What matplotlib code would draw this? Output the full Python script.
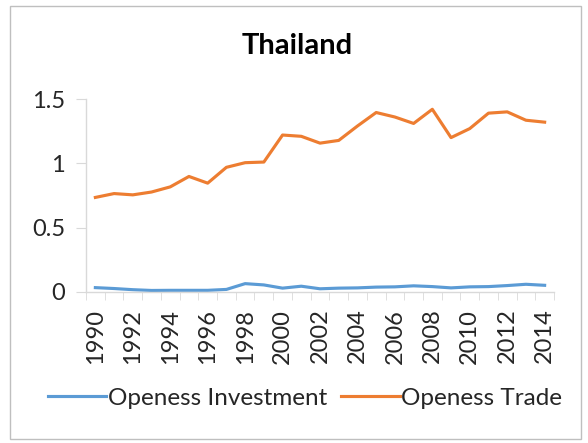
import matplotlib.pyplot as plt
import numpy as np
from matplotlib.patches import Rectangle
from matplotlib.ticker import FixedLocator

plt.rcParams['font.family'] = ['Lato', 'DejaVu Sans']

years = list(range(1990, 2015))
openess_investment = [0.034, 0.027, 0.018, 0.012, 0.013, 0.013, 0.013, 0.02, 0.065,
                      0.055, 0.03, 0.045, 0.025, 0.03, 0.032, 0.038, 0.04, 0.048,
                      0.042, 0.032, 0.04, 0.042, 0.05, 0.06, 0.052]
openess_trade = [0.735, 0.765, 0.755, 0.777, 0.817, 0.898, 0.846, 0.969, 1.005,
                 1.01, 1.22, 1.21, 1.157, 1.178, 1.29, 1.395, 1.36, 1.31,
                 1.42, 1.20, 1.27, 1.39, 1.40, 1.335, 1.32]
yticks = [0, 0.5, 1, 1.5]
ytick_labels = ["0", "0.5", "1", "1.5"]

grey = "#d9d9d9"
text_col = "#262626"

fig = plt.figure(figsize=(5.88, 4.43), dpi=100)
# chart frame
fig.patches.append(Rectangle((10 / 588, 1 - 439 / 443), 571 / 588, 433 / 443,
                             transform=fig.transFigure, fill=False,
                             edgecolor="#bfbfbf", linewidth=1))

ax = fig.add_axes([86 / 588, 1 - 292 / 443, 468 / 588, 193 / 443])
x = np.arange(len(years))
ax.plot(x, openess_investment, color="#5B9BD5", linewidth=2.25, label="Openess Investment")
ax.plot(x, openess_trade, color="#ED7D31", linewidth=2.25, label="Openess Trade")

ax.set_xlim(-0.5, len(years) - 0.5)
ax.set_ylim(0, 1.5)
ax.set_yticks(yticks)
ax.set_yticklabels(ytick_labels, fontsize=17, color=text_col)
ax.tick_params(axis="y", length=7, color=grey, pad=8)

ax.set_xticks(x[::2])
ax.set_xticklabels([str(y) for y in years[::2]], rotation=90, fontsize=17, color=text_col)
ax.tick_params(axis="x", which="major", length=0, pad=12)
ax.xaxis.set_minor_locator(FixedLocator(np.arange(-0.5, len(years), 1.0)))
ax.tick_params(axis="x", which="minor", length=6, color=grey)

for side in ["top", "right"]:
    ax.spines[side].set_visible(False)
for side in ["left", "bottom"]:
    ax.spines[side].set_color(grey)
    ax.spines[side].set_linewidth(1)

fig.text(297 / 588, 1 - 46 / 443, "Thailand", ha="center", va="center",
         fontsize=21, fontweight="bold", color="#000000")

fig.legend(loc="center", bbox_to_anchor=(305 / 588, 1 - 398 / 443), ncol=2,
           frameon=False, fontsize=17.5, handlelength=2.4, handletextpad=0.05,
           columnspacing=0.6, labelcolor=text_col)

fig.savefig("out.png", dpi=100)
